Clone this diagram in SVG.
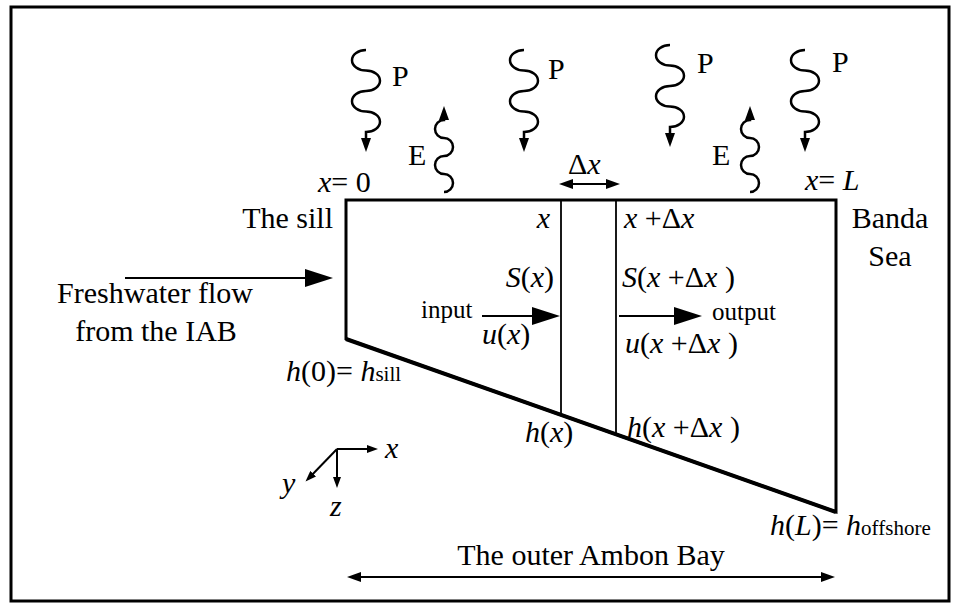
<svg xmlns="http://www.w3.org/2000/svg" width="957" height="605" viewBox="0 0 957 605">
  <style>
    text { font-family: "Liberation Serif", "Times New Roman", serif; font-size: 30px; fill: #000; }
    .i { font-style: italic; }
    .sm { font-size: 25px; }
    .sub { font-size: 21px; font-style: normal; }
    .ln { fill: none; stroke: #000; stroke-width: 2; }
    .wave { fill: none; stroke: #000; stroke-width: 2.5; }
  </style>
  <defs>
    <marker id="big" markerUnits="userSpaceOnUse" viewBox="0 0 28 18" markerWidth="28" markerHeight="18" refX="18" refY="9" orient="auto">
      <path d="M0,0 L28,9 L0,18 z" fill="#000"/>
    </marker>
    <marker id="sm" markerUnits="userSpaceOnUse" viewBox="0 0 14 10" markerWidth="14" markerHeight="10" refX="8" refY="5" orient="auto-start-reverse">
      <path d="M0,0 L14,5 L0,10 z" fill="#000"/>
    </marker>
    <marker id="ax" markerUnits="userSpaceOnUse" viewBox="0 0 11 8" markerWidth="11" markerHeight="8" refX="6" refY="4" orient="auto">
      <path d="M0,0 L11,4 L0,8 z" fill="#000"/>
    </marker>
    <path id="pwave" class="wave" d="M0,0 a14,10.25 0 0,0 0,20.5 a14,10.25 0 0,1 0,20.5 a14,10.25 0 0,0 0,20.5 a14,10.25 0 0,1 0,20.5 l0,14" marker-end="url(#sm)"/>
    <path id="ewave" class="wave" d="M0,0 a9,9 0 0,0 0,-18 a9,9 0 0,1 0,-18 a9,9 0 0,0 0,-18 a9,9 0 0,1 0,-18 l0,-8" marker-end="url(#sm)"/>
  </defs>

  <rect id="frame" x="11" y="7" width="938" height="594" fill="#fff" stroke="#000" stroke-width="3"/>

  <g id="bay">
    <polygon points="346,200 836,200 836,512 346,339" fill="none" stroke="#000" stroke-width="3" stroke-linejoin="miter"/>
    <line x1="346" y1="339" x2="836" y2="512" stroke="#000" stroke-width="4"/>
    <line x1="561" y1="200" x2="561" y2="415" stroke="#000" stroke-width="1.8"/>
    <line x1="616" y1="200" x2="616" y2="434" stroke="#000" stroke-width="1.8"/>
  </g>

  <g id="precipitation">
    <use href="#pwave" transform="translate(366,50)"/>
    <use href="#pwave" transform="translate(524,50)"/>
    <use href="#pwave" transform="translate(670,45)"/>
    <use href="#pwave" transform="translate(805,50)"/>
    <text x="392" y="86">P</text>
    <text x="548" y="79">P</text>
    <text x="697" y="73">P</text>
    <text x="832" y="72">P</text>
  </g>

  <g id="evaporation">
    <use href="#ewave" transform="translate(444,192)"/>
    <use href="#ewave" transform="translate(750,192)"/>
    <text x="408" y="165">E</text>
    <text x="712" y="165">E</text>
  </g>

  <g id="connectors">
    <line class="ln" x1="125" y1="278" x2="323" y2="278" marker-end="url(#big)"/>
    <line class="ln" x1="482" y1="316" x2="550" y2="316" marker-end="url(#big)"/>
    <line class="ln" x1="619" y1="316" x2="692" y2="316" marker-end="url(#big)"/>
    <line class="ln" x1="565" y1="184" x2="614" y2="184" marker-start="url(#sm)" marker-end="url(#sm)"/>
    <line class="ln" x1="353" y1="577" x2="829" y2="577" marker-start="url(#sm)" marker-end="url(#sm)"/>
  </g>

  <g id="axes">
    <line class="ln" x1="337" y1="449" x2="373" y2="449" stroke-width="1.8" marker-end="url(#ax)"/>
    <line class="ln" x1="337" y1="449" x2="337" y2="483" stroke-width="1.8" marker-end="url(#ax)"/>
    <line class="ln" x1="337" y1="449" x2="309" y2="478" stroke-width="1.8" marker-end="url(#ax)"/>
    <text class="i" x="385" y="458">x</text>
    <text class="i" x="282" y="493">y</text>
    <text class="i" x="330" y="516">z</text>
  </g>

  <g id="labels">
    <text x="318" y="192"><tspan class="i">x</tspan>= 0</text>
    <text x="805" y="190"><tspan class="i">x</tspan>= <tspan class="i">L</tspan></text>
    <text x="568" y="174">Δ<tspan class="i">x</tspan></text>
    <text x="333" y="228" text-anchor="end">The sill</text>
    <text x="890" y="228" text-anchor="middle">Banda</text>
    <text x="890" y="266" text-anchor="middle">Sea</text>
    <text x="155" y="303" text-anchor="middle">Freshwater flow</text>
    <text x="156" y="341" text-anchor="middle">from the IAB</text>
    <text class="i" x="550" y="228" text-anchor="end">x</text>
    <text x="624" y="228"><tspan class="i">x</tspan> +Δ<tspan class="i">x</tspan></text>
    <text x="554" y="287" text-anchor="end"><tspan class="i">S</tspan>(<tspan class="i">x</tspan>)</text>
    <text x="622" y="287"><tspan class="i">S</tspan>(<tspan class="i">x</tspan> +Δ<tspan class="i">x</tspan> )</text>
    <text class="sm" x="421" y="318">input</text>
    <text class="sm" x="712" y="320">output</text>
    <text x="482" y="344"><tspan class="i">u</tspan>(<tspan class="i">x</tspan>)</text>
    <text x="625" y="353"><tspan class="i">u</tspan>(<tspan class="i">x</tspan> +Δ<tspan class="i">x</tspan> )</text>
    <text x="286" y="381"><tspan class="i">h</tspan>(0)= <tspan class="i">h</tspan><tspan class="sub">sill</tspan></text>
    <text x="525" y="442"><tspan class="i">h</tspan>(<tspan class="i">x</tspan>)</text>
    <text x="627" y="437"><tspan class="i">h</tspan>(<tspan class="i">x</tspan> +Δ<tspan class="i">x</tspan> )</text>
    <text x="770" y="535"><tspan class="i">h</tspan>(<tspan class="i">L</tspan>)= <tspan class="i">h</tspan><tspan class="sub">offshore</tspan></text>
    <text x="591" y="565" text-anchor="middle">The outer Ambon Bay</text>
  </g>
</svg>
